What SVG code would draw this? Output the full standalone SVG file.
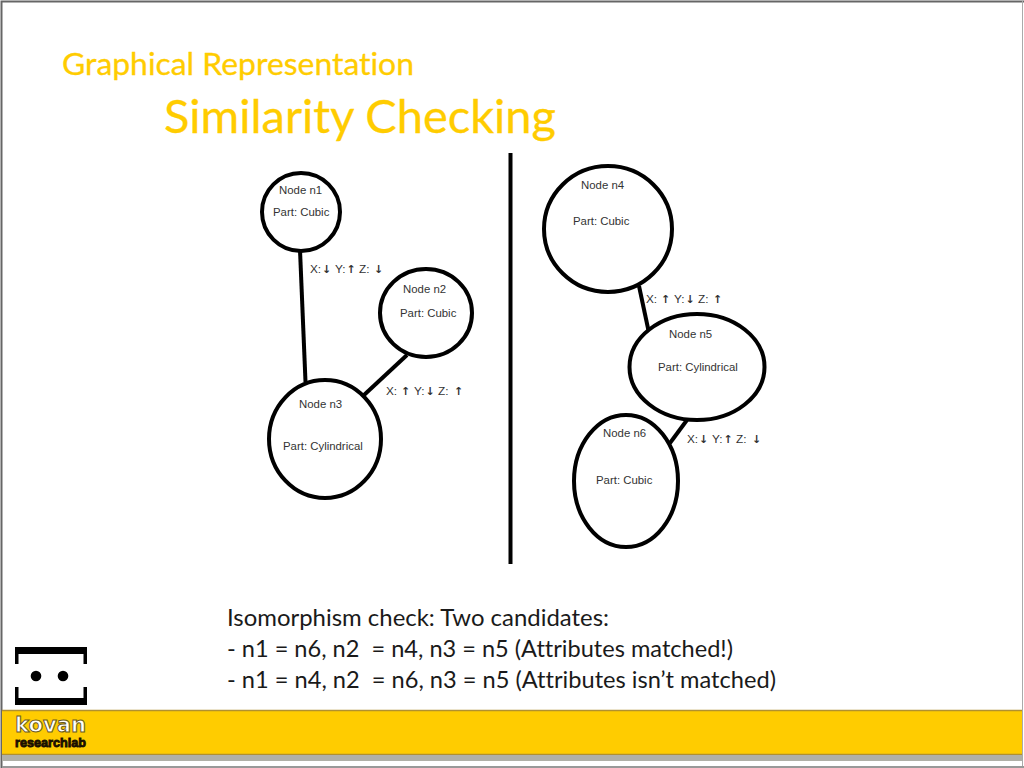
<svg xmlns="http://www.w3.org/2000/svg" width="1024" height="768" viewBox="0 0 1024 768">
<style>
.t{font-family:Lato,"Open Sans",sans-serif;fill:#ffcc00;stroke:#ffcc00;stroke-width:.3;font-variant-ligatures:none}
.b{font-family:Lato,"Open Sans",sans-serif;font-size:23.600px;fill:#1a1a1a;white-space:pre;font-variant-ligatures:none}
.n{font-family:"Liberation Sans",Arial,sans-serif;font-size:11.400px;fill:#333}
.e{font-family:"Liberation Sans",Arial,sans-serif;font-size:11.800px;fill:#333}
.a{font-family:"DejaVu Sans",sans-serif;font-size:11px;font-weight:bold;fill:#333}
.c{fill:#fff;stroke:#000;stroke-width:4}
.l{stroke:#000;stroke-width:4;fill:none}
</style>
<rect width="1024" height="768" fill="#fff"/>
<path d="M1.500 768V1.500H1024" fill="none" stroke="#666" stroke-width="2"/>
<path d="M1022.500 1V768" fill="none" stroke="#aaa" stroke-width="1"/>
<rect x="2" y="710" width="1020" height="45" fill="#ffcc00"/>
<path d="M2 710.500H1022M2 754.500H1022" stroke="#b09030" stroke-width="1.500"/>
<rect x="2" y="755" width="1020" height="6" fill="#b0b0a8"/>
<rect x="2" y="766" width="1022" height="2" fill="#999"/>
<text class="t" x="62" y="75" font-size="30.500" textLength="352" lengthAdjust="spacingAndGlyphs">Graphical Representation</text>
<text class="t" x="164" y="133" font-size="46" textLength="392" lengthAdjust="spacingAndGlyphs">Similarity Checking</text>
<path d="M510.500 153V564" stroke="#000" stroke-width="4" fill="none"/>
<g id="connectors">
<path class="l" d="M300 250L305.500 382"/>
<path class="l" d="M407 355L364 395"/>
<path class="l" d="M639 286L649 333"/>
<path class="l" d="M687 420L670 443"/>
</g>
<g id="n1"><circle class="c" cx="301" cy="212" r="39"/><text class="n" x="279" y="194">Node n1</text><text class="n" x="273" y="216">Part: Cubic</text></g>
<g id="n2"><ellipse class="c" cx="426" cy="313" rx="46" ry="44"/><text class="n" x="403" y="293">Node n2</text><text class="n" x="400" y="317">Part: Cubic</text></g>
<g id="n3"><ellipse class="c" cx="325" cy="439" rx="56" ry="59"/><text class="n" x="299" y="408">Node n3</text><text class="n" x="283" y="450">Part: Cylindrical</text></g>
<g id="n4"><ellipse class="c" cx="608" cy="229" rx="64" ry="63"/><text class="n" x="581" y="189">Node n4</text><text class="n" x="573" y="225">Part: Cubic</text></g>
<g id="n5"><ellipse class="c" cx="697" cy="367" rx="67.500" ry="53"/><text class="n" x="669" y="338">Node n5</text><text class="n" x="658" y="371">Part: Cylindrical</text></g>
<g id="n6"><ellipse class="c" cx="626" cy="481" rx="52" ry="66"/><text class="n" x="603" y="437">Node n6</text><text class="n" x="596" y="484">Part: Cubic</text></g>
<g id="labels">
<text class="e" x="310" y="273">X:<tspan class="a" x="322">↓ </tspan><tspan x="335">Y:</tspan><tspan class="a" x="346.500">↑ </tspan><tspan x="359">Z: </tspan><tspan class="a" x="374">↓</tspan></text>
<text class="e" x="386" y="395">X: <tspan class="a" x="401">↑ </tspan><tspan x="414">Y:</tspan><tspan class="a" x="425.500">↓ </tspan><tspan x="438">Z: </tspan><tspan class="a" x="454">↑</tspan></text>
<text class="e" x="646" y="303">X: <tspan class="a" x="661">↑ </tspan><tspan x="674">Y:</tspan><tspan class="a" x="685.500">↓ </tspan><tspan x="698">Z: </tspan><tspan class="a" x="713">↑</tspan></text>
<text class="e" x="687" y="443">X:<tspan class="a" x="699">↓ </tspan><tspan x="712">Y:</tspan><tspan class="a" x="723.500">↑ </tspan><tspan x="736">Z: </tspan><tspan class="a" x="752">↓</tspan></text>
</g>
<text class="b" x="227" y="626" textLength="382" lengthAdjust="spacingAndGlyphs">Isomorphism check: Two candidates:</text>
<text class="b" x="227" y="657" textLength="506" lengthAdjust="spacingAndGlyphs">- n1 = n6, n2  = n4, n3 = n5 (Attributes matched!)</text>
<text class="b" x="227" y="688" textLength="549" lengthAdjust="spacingAndGlyphs">- n1 = n4, n2  = n6, n3 = n5 (Attributes isn’t matched)</text>
<g id="logo">
<path d="M15 664V647H87V664H83.500V654H18.500V664Z" fill="#000"/>
<path d="M15 687V705H87V687H83.500V698H18.500V687Z" fill="#000"/>
<circle cx="36" cy="676" r="5.300" fill="#000"/><circle cx="63" cy="676" r="5.300" fill="#000"/>
<text x="15" y="732" font-family="'DejaVu Sans',sans-serif" font-weight="bold" font-size="21" fill="#fff" stroke="#6b5a20" stroke-width="1" textLength="71" lengthAdjust="spacingAndGlyphs">kovan</text>
<text x="15" y="747" font-family="'Liberation Sans',sans-serif" font-weight="bold" font-size="13" fill="#1a1000" stroke="#1a1000" stroke-width="0.900" textLength="71" lengthAdjust="spacingAndGlyphs">researchlab</text>
</g>
</svg>
